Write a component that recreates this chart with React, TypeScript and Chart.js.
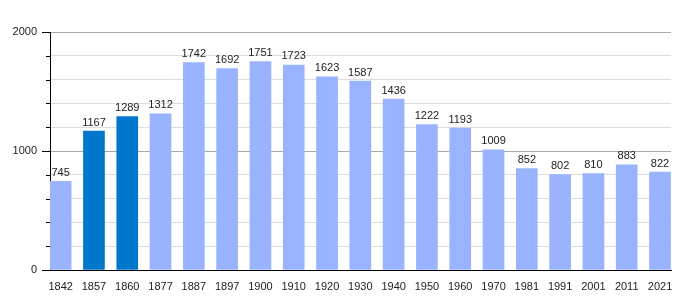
import React, { useEffect, useRef } from "react";
import { Chart, registerables } from "chart.js";

Chart.register(...registerables);

const years = ["1842","1857","1860","1877","1887","1897","1900","1910","1920","1930","1940","1950","1960","1970","1981","1991","2001","2011","2021"];
const population = [745,1167,1289,1312,1742,1692,1751,1723,1623,1587,1436,1222,1193,1009,852,802,810,883,822];
const highlighted = ["1857","1860"];
const yTickLabels = [0, 1000, 2000];

const LIGHT = "#99b3ff";
const DARK = "#0077cc";
const FONT = "'Liberation Sans', Arial, sans-serif";

const valueLabels = {
  id: "valueLabels",
  afterDatasetsDraw(chart: any) {
    const ctx = chart.ctx;
    const meta = chart.getDatasetMeta(0);
    ctx.save();
    ctx.font = `11px ${FONT}`;
    ctx.fillStyle = "#222";
    ctx.textAlign = "center";
    ctx.textBaseline = "bottom";
    meta.data.forEach((bar: any, i: number) => {
      ctx.fillText(String(population[i]), bar.x, bar.y - 3);
    });
    ctx.restore();
  },
};

const yTickMarks = {
  id: "yTickMarks",
  afterDraw(chart: any) {
    const ctx = chart.ctx;
    const y = chart.scales.y;
    const left = chart.chartArea.left;
    ctx.save();
    ctx.strokeStyle = "#000";
    ctx.lineWidth = 1;
    y.ticks.forEach((t: any) => {
      const py = Math.round(y.getPixelForValue(t.value)) + 0.5;
      const len = t.value % 1000 === 0 ? 8 : 4;
      ctx.beginPath();
      ctx.moveTo(left - len, py);
      ctx.lineTo(left, py);
      ctx.stroke();
    });
    ctx.restore();
  },
};

export default function App() {
  const ref = useRef<HTMLCanvasElement>(null);
  useEffect(() => {
    if (!ref.current) return;
    const chart = new Chart(ref.current, {
      type: "bar",
      data: {
        datasets: [
          {
            data: population.map((v, i) => ({ x: i, y: v })),
            backgroundColor: years.map((y) => (highlighted.includes(y) ? DARK : LIGHT)),
            barThickness: 21,
            borderWidth: 0,
          },
        ],
      },
      options: {
        animation: false,
        responsive: false,
        maintainAspectRatio: false,
        layout: { padding: { top: 32, right: 29, left: 0, bottom: 0 } },
        plugins: { legend: { display: false }, tooltip: { enabled: false } },
        scales: {
          x: {
            type: "linear",
            offset: false,
            min: -0.32,
            max: 18.33,
            grid: { display: false, offset: false },
            border: { display: true, color: "#000", width: 1 },
            afterBuildTicks: (scale: any) => {
              scale.ticks = years.map((_, i) => ({ value: i }));
            },
            afterFit: (scale: any) => {
              scale.height = 30;
            },
            ticks: {
              autoSkip: false,
              maxRotation: 0,
              padding: 2,
              color: "#222",
              font: { family: FONT, size: 11 },
              callback: (v: any) => years[v] ?? "",
            },
          },
          y: {
            min: 0,
            max: 2000,
            border: { display: true, color: "#000", width: 1 },
            grid: {
              color: (c: any) => (c.tick && c.tick.value % 1000 === 0 ? "#aaaaaa" : "#dddddd"),
              drawTicks: false,
            },
            afterFit: (scale: any) => {
              scale.width = 50;
            },
            ticks: {
              stepSize: 200,
              padding: 13,
              color: "#222",
              font: { family: FONT, size: 11 },
              callback: (v: any) => (yTickLabels.includes(Number(v)) ? String(v) : ""),
            },
          },
        },
      },
      plugins: [valueLabels, yTickMarks],
    });
    return () => chart.destroy();
  }, []);
  return (
    <div style={{ position: "fixed", left: 0, top: 0, width: 700, height: 300, background: "#fff" }}>
      <canvas ref={ref} width={700} height={300} style={{ width: 700, height: 300 }} />
    </div>
  );
}
